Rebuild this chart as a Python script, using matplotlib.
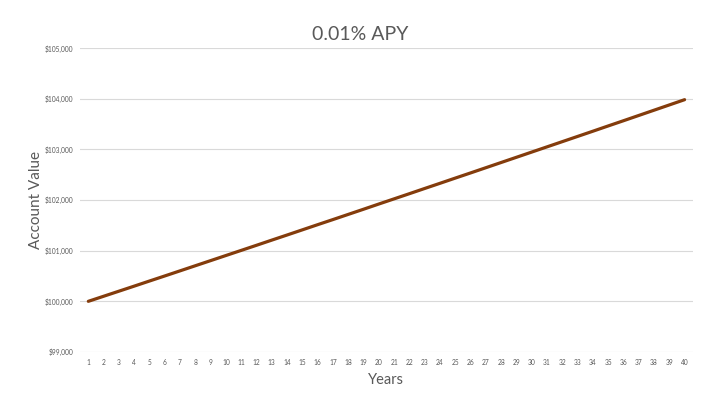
import matplotlib
matplotlib.use("Agg")
import matplotlib.pyplot as plt
from matplotlib.ticker import FuncFormatter

years = list(range(1, 41))
values = [100000, 100100, 100200, 100300, 100401, 100501, 100602, 100703, 100804, 100905,
          101006, 101107, 101209, 101310, 101412, 101514, 101615, 101717, 101819, 101922,
          102024, 102126, 102229, 102331, 102434, 102536, 102639, 102742, 102845, 102948,
          103051, 103154, 103257, 103360, 103464, 103567, 103671, 103775, 103879, 103983]
y_ticks = [99000, 100000, 101000, 102000, 103000, 104000, 105000]
title = "0.01% APY"

plt.rcParams['font.family'] = ['Lato', 'DejaVu Sans']
fig = plt.figure(figsize=(7.2, 4.05), dpi=100)
ax = fig.add_axes([0.111, 0.131, 0.8515, 0.75])
ax.plot(years, values, color='#843C0C', linewidth=2.3, solid_capstyle='round', zorder=3)
ax.set_xlim(0.45, 40.55)
ax.set_ylim(99000, 105000)
ax.set_yticks(y_ticks)
ax.yaxis.set_major_formatter(FuncFormatter(lambda v, p: f"${v:,.0f}"))
ax.set_xticks(years)
ax.grid(axis='y', color='#D9D9D9', linewidth=0.8, zorder=0)
for s in ['top', 'right', 'left', 'bottom']:
    ax.spines[s].set_visible(False)
ax.tick_params(axis='both', length=0, labelsize=4.8, labelcolor='#595959')
ax.tick_params(axis='y', pad=5)
ax.tick_params(axis='x', pad=5)
ax.set_xlabel("Years", fontsize=10.5, color='#595959', labelpad=5)
ax.set_ylabel("Account Value", fontsize=11, color='#595959', labelpad=1)
fig.text(0.5, 0.915, title, ha='center', va='center', fontsize=14, color='#595959')
fig.savefig("out.png", dpi=100)
